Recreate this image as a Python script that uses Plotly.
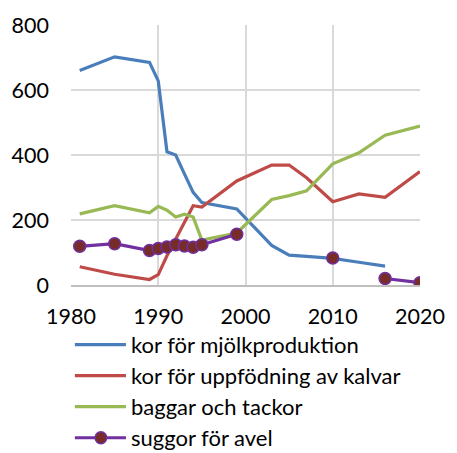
import plotly.graph_objects as go

years = [1981, 1985, 1989, 1990, 1991, 1992, 1993, 1994, 1995, 1999,
         2003, 2005, 2007, 2010, 2013, 2016, 2020]

mjolk = [660, 702, 685, 628, 410, 400, 342, 285, 254, 234,
         122, 92, 88, 82, 70, 58, None]
kalvar = [56, 33, 17, 32, 90, 140, 192, 244, 240, 320,
          369, 369, 330, 256, 280, 270, 349]
baggar = [219, 244, 222, 242, 230, 209, 218, 209, 138, 160,
          263, 275, 290, 373, 407, 461, 489]
suggor = [119, 127, 106, 112, 117, 124, 120, 116, 124, 156,
          None, None, None, 83, None, 20, 7]

names = ["kor för mjölkproduktion", "kor för uppfödning av kalvar",
         "baggar och tackor", "suggor för avel"]
colors = ["#4a7ebb", "#be4b48", "#98b954", "#7030a0"]
marker_fill = "#772c2a"

x_ticks = [1980, 1990, 2000, 2010, 2020]
y_ticks = [0, 200, 400, 600, 800]

FONT = "Lato"
W, H = 457, 453
L, R, T, B = 68, 27, 23, 168

fig = go.Figure()
for name, vals, col in zip(names[:3], [mjolk, kalvar, baggar], colors[:3]):
    fig.add_trace(go.Scatter(x=years, y=vals, mode="lines", name=name,
                             line=dict(color=col, width=3.2),
                             connectgaps=True, showlegend=False))
fig.add_trace(go.Scatter(x=years, y=suggor, mode="lines+markers", name=names[3],
                         line=dict(color=colors[3], width=3.2),
                         marker=dict(size=12, color=marker_fill,
                                     line=dict(color=colors[3], width=1.5)),
                         connectgaps=False, showlegend=False))

# legend drawn below the plot in pixel positions
pw, ph = W - L - R, H - T - B


def px(xp):
    return (xp - L) / pw


def py(yp):
    return (H - B - yp) / ph


LEG_Y0, LEG_DY = 345, 31.3

shapes = []
annotations = []
for i, (name, col) in enumerate(zip(names, colors)):
    yc = LEG_Y0 + i * LEG_DY
    shapes.append(dict(type="line", xref="paper", yref="paper",
                       x0=px(72), x1=px(125), y0=py(yc), y1=py(yc),
                       line=dict(color=col, width=3.2)))
    annotations.append(dict(xref="paper", yref="paper", x=px(128), y=py(yc),
                            text=name, showarrow=False, xanchor="left",
                            yanchor="middle",
                            font=dict(family=FONT, size=22, color="#000000")))
yc = LEG_Y0 + 3 * LEG_DY
r = 6
shapes.append(dict(type="circle", xref="paper", yref="paper",
                   x0=px(99 - r), x1=px(99 + r), y0=py(yc - r), y1=py(yc + r),
                   fillcolor=marker_fill, line=dict(color=colors[3], width=1.5)))

fig.update_layout(
    width=W, height=H,
    margin=dict(l=L, r=R, t=T, b=B),
    plot_bgcolor="white", paper_bgcolor="white",
    font=dict(family=FONT, size=21.5, color="#000000"),
    shapes=shapes, annotations=annotations,
    showlegend=False,
)
fig.update_xaxes(range=[1980, 2020], tickvals=x_ticks, showgrid=True,
                 gridcolor="#d9d9d9", gridwidth=1.5, zeroline=False,
                 showline=True, linecolor="#bfbfbf", linewidth=1.5,
                 ticks="", ticklabelstandoff=11)
fig.update_yaxes(range=[0, 800], tickvals=y_ticks, showgrid=True,
                 gridcolor="#d9d9d9", gridwidth=1.5, zeroline=False,
                 showline=False, ticks="", ticklabelstandoff=21)

fig.write_html("out.html")
